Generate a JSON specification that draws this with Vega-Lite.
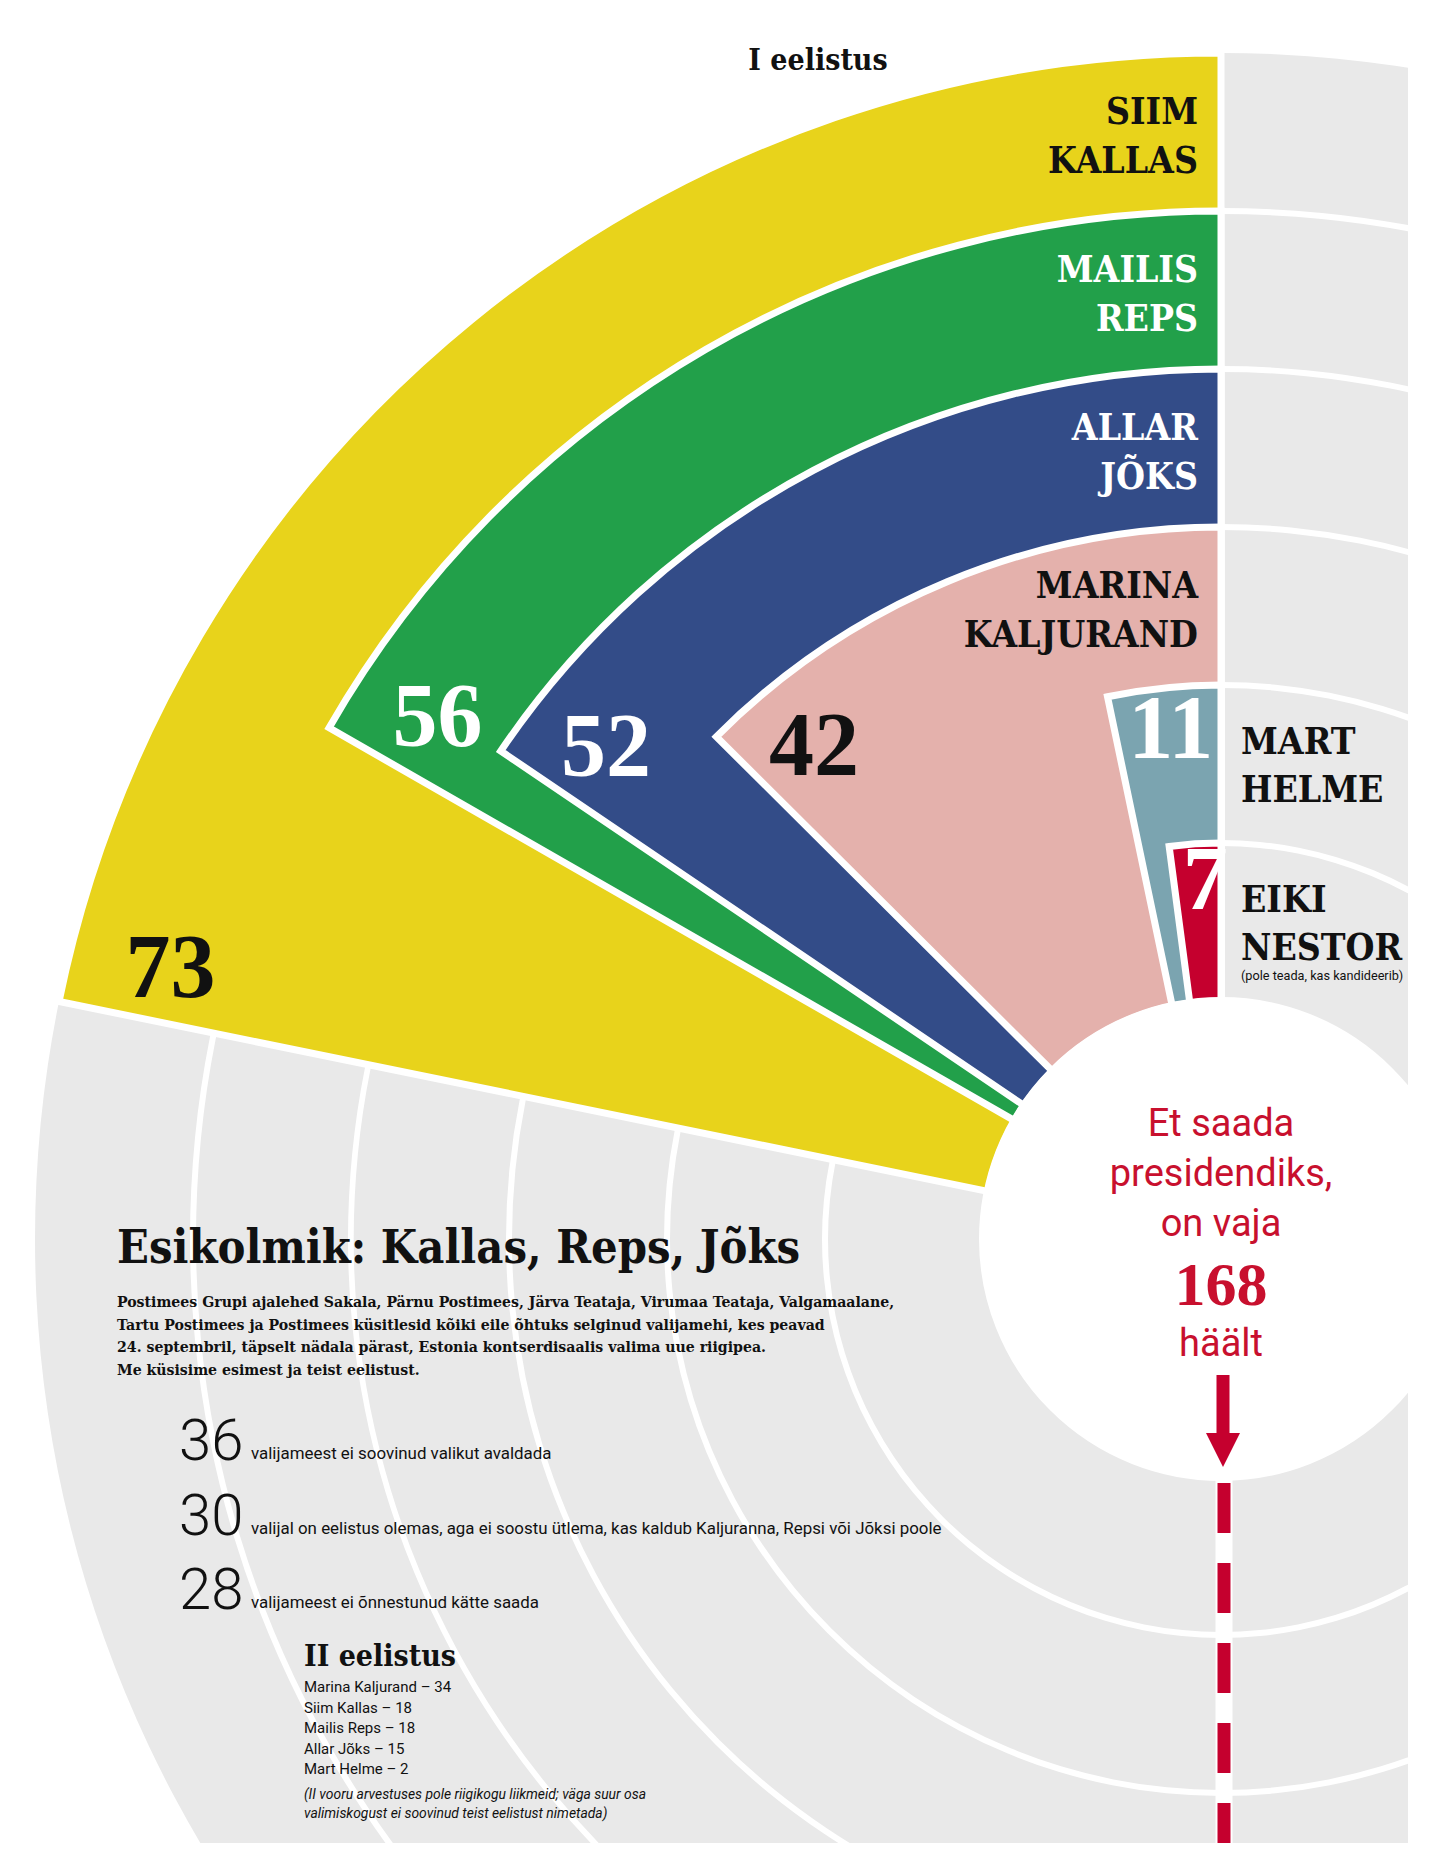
{
  "$schema": "https://vega.github.io/schema/vega-lite/v6.json",
  "width": 1408,
  "height": 1843,
  "padding": 0,
  "autosize": {"type": "none"},
  "background": "white",
  "config": {"view": {"stroke": null}},
  "datasets": {
    "candidates": [
      {"candidate": "Siim Kallas", "label": "SIIM\nKALLAS", "value": 73, "ring": 6},
      {"candidate": "Mailis Reps", "label": "MAILIS\nREPS", "value": 56, "ring": 5},
      {"candidate": "Allar Jõks", "label": "ALLAR\nJÕKS", "value": 52, "ring": 4},
      {"candidate": "Marina Kaljurand", "label": "MARINA\nKALJURAND", "value": 42, "ring": 3},
      {"candidate": "Mart Helme", "label": "MART\nHELME", "value": 11, "ring": 2},
      {"candidate": "Eiki Nestor", "label": "EIKI\nNESTOR", "value": 7, "ring": 1}
    ],
    "rings": [{"ring": 1}, {"ring": 2}, {"ring": 3}, {"ring": 4}, {"ring": 5}],
    "one": [{"k": 1}]
  },
  "encoding": {
    "x": {"datum": 1221, "type": "quantitative", "scale": {"domain": [0, 1408], "nice": false, "zero": false}, "axis": null},
    "y": {"datum": 1239, "type": "quantitative", "scale": {"domain": [0, 1843], "reverse": true, "nice": false, "zero": false}, "axis": null}
  },
  "layer": [
    {
      "data": {"name": "one"},
      "mark": {"type": "arc", "fill": "#e9e9e9", "clip": true},
      "encoding": {
        "theta": {"datum": 335, "type": "quantitative", "stack": null, "scale": {"domain": [0, 335], "range": [0, -6.283185307], "nice": false, "zero": false}},
        "theta2": {"datum": 0},
        "radius": {"datum": 6, "type": "quantitative", "scale": {"type": "linear", "domain": [0, 6], "range": [238, 1186], "nice": false, "zero": false}}
      }
    },
    {
      "data": {"name": "rings"},
      "mark": {"type": "arc", "fill": "white", "clip": true, "radiusOffset": 3, "radius2Offset": -3},
      "encoding": {
        "theta": {"datum": 335, "type": "quantitative", "stack": null, "scale": {"domain": [0, 335], "range": [0, -6.283185307], "nice": false, "zero": false}},
        "theta2": {"datum": 0},
        "radius": {"field": "ring", "type": "quantitative", "scale": {"type": "linear", "domain": [0, 6], "range": [238, 1186], "nice": false, "zero": false}},
        "radius2": {"field": "ring"}
      }
    },
    {
      "data": {"name": "candidates"},
      "mark": {"type": "arc", "stroke": "white", "strokeWidth": 7},
      "encoding": {
        "theta": {"field": "value", "type": "quantitative", "stack": null, "scale": {"domain": [0, 335], "range": [0, -6.283185307], "nice": false, "zero": false}},
        "theta2": {"datum": 0},
        "radius": {"field": "ring", "type": "quantitative", "scale": {"type": "linear", "domain": [0, 6], "range": [238, 1186], "nice": false, "zero": false}},
        "radius2": {"datum": 0},
        "color": {
          "field": "candidate", "type": "nominal", "legend": null,
          "scale": {
            "domain": ["Siim Kallas", "Mailis Reps", "Allar Jõks", "Marina Kaljurand", "Mart Helme", "Eiki Nestor"],
            "range": ["#e8d31b", "#22a04a", "#334c88", "#e4b1ac", "#7ba4b0", "#c5002e"]
          }
        }
      }
    },
    {
      "data": {"name": "one"},
      "mark": {"type": "arc", "fill": "white", "stroke": "white", "strokeWidth": 8},
      "encoding": {
        "theta": {"datum": 335, "type": "quantitative", "stack": null, "scale": {"domain": [0, 335], "range": [0, -6.283185307], "nice": false, "zero": false}},
        "theta2": {"datum": 0},
        "radius": {"datum": 0, "type": "quantitative", "scale": {"type": "linear", "domain": [0, 6], "range": [238, 1186], "nice": false, "zero": false}}
      }
    },
    {
      "data": {"name": "one"},
      "mark": {"type": "rule", "color": "white", "strokeWidth": 17},
      "encoding": {
        "x": {"datum": 1224, "type": "quantitative", "scale": {"domain": [0, 1408], "nice": false, "zero": false}, "axis": null},
        "y": {"datum": 1470, "type": "quantitative", "scale": {"domain": [0, 1843], "reverse": true, "nice": false, "zero": false}, "axis": null},
        "y2": {"datum": 1843}
      }
    },
    {
      "data": {"name": "one"},
      "mark": {"type": "rule", "color": "#c5002e", "strokeWidth": 13, "strokeDash": [50, 30], "strokeCap": "butt"},
      "encoding": {
        "x": {"datum": 1224, "type": "quantitative", "scale": {"domain": [0, 1408], "nice": false, "zero": false}, "axis": null},
        "y": {"datum": 1483, "type": "quantitative", "scale": {"domain": [0, 1843], "reverse": true, "nice": false, "zero": false}, "axis": null},
        "y2": {"datum": 1843}
      }
    },
    {
      "data": {"name": "one"},
      "mark": {"type": "rule", "color": "#c5002e", "strokeWidth": 13, "strokeCap": "butt"},
      "encoding": {
        "x": {"datum": 1223, "type": "quantitative", "scale": {"domain": [0, 1408], "nice": false, "zero": false}, "axis": null},
        "y": {"datum": 1375, "type": "quantitative", "scale": {"domain": [0, 1843], "reverse": true, "nice": false, "zero": false}, "axis": null},
        "y2": {"datum": 1440}
      }
    },
    {
      "data": {"name": "one"},
      "mark": {"type": "point", "shape": "M-1,-1L1,-1L0,1Z", "filled": true, "color": "#c5002e", "opacity": 1, "size": 1156, "strokeWidth": 0},
      "encoding": {
        "x": {"datum": 1223, "type": "quantitative", "scale": {"domain": [0, 1408], "nice": false, "zero": false}, "axis": null},
        "y": {"datum": 1450, "type": "quantitative", "scale": {"domain": [0, 1843], "reverse": true, "nice": false, "zero": false}, "axis": null}
      }
    },
    {
      "data": {"name": "candidates"},
      "transform": [{"filter": "datum.ring >= 3"}],
      "mark": {"type": "text", "align": "right", "baseline": "alphabetic", "dx": -23, "dy": 71, "lineBreak": "\n", "lineHeight": 49, "font": "DejaVu Serif Condensed, DejaVu Serif", "fontWeight": "bold", "fontSize": 37},
      "encoding": {
        "theta": {"datum": 0, "type": "quantitative", "stack": null, "scale": {"domain": [0, 335], "range": [0, -6.283185307], "nice": false, "zero": false}},
        "radius": {"field": "ring", "type": "quantitative", "scale": {"type": "linear", "domain": [0, 6], "range": [238, 1186], "nice": false, "zero": false}},
        "text": {"field": "label"},
        "color": {"condition": {"test": "datum.ring == 5 || datum.ring == 4", "value": "white"}, "value": "#111111"}
      }
    },
    {
      "data": {"name": "candidates"},
      "transform": [{"filter": "datum.ring <= 2"}],
      "mark": {"type": "text", "align": "left", "baseline": "alphabetic", "dx": 20, "dy": 69, "lineBreak": "\n", "lineHeight": 48, "font": "DejaVu Serif Condensed, DejaVu Serif", "fontWeight": "bold", "fontSize": 37, "color": "#111111"},
      "encoding": {
        "theta": {"datum": 0, "type": "quantitative", "stack": null, "scale": {"domain": [0, 335], "range": [0, -6.283185307], "nice": false, "zero": false}},
        "radius": {"field": "ring", "type": "quantitative", "scale": {"type": "linear", "domain": [0, 6], "range": [238, 1186], "nice": false, "zero": false}},
        "text": {"field": "label"}
      }
    },
    {
      "data": {"name": "candidates"},
      "mark": {"type": "text", "align": "left", "baseline": "alphabetic", "radiusOffset": -64, "thetaOffset": 0.016, "font": "Liberation Serif", "fontWeight": "bold", "fontSize": 90},
      "encoding": {
        "theta": {"field": "value", "type": "quantitative", "stack": null, "scale": {"domain": [0, 335], "range": [0, -6.283185307], "nice": false, "zero": false}},
        "radius": {"field": "ring", "type": "quantitative", "scale": {"type": "linear", "domain": [0, 6], "range": [238, 1186], "nice": false, "zero": false}},
        "text": {"field": "value"},
        "color": {"condition": {"test": "datum.ring == 6 || datum.ring == 3", "value": "#111111"}, "value": "white"}
      }
    },
    {
      "data": {"name": "one"},
      "mark": {"type": "text", "text": "(pole teada, kas kandideerib)", "align": "left", "baseline": "alphabetic", "font": "Roboto", "fontSize": 12.7, "color": "#111111"},
      "encoding": {
        "x": {"datum": 1241, "type": "quantitative", "scale": {"domain": [0, 1408], "nice": false, "zero": false}, "axis": null},
        "y": {"datum": 980, "type": "quantitative", "scale": {"domain": [0, 1843], "reverse": true, "nice": false, "zero": false}, "axis": null}
      }
    },
    {
      "data": {"name": "one"},
      "mark": {"type": "text", "text": "I eelistus", "align": "center", "baseline": "alphabetic", "font": "DejaVu Serif Condensed, DejaVu Serif", "fontWeight": "bold", "fontSize": 30, "color": "#111111"},
      "encoding": {
        "x": {"datum": 818, "type": "quantitative", "scale": {"domain": [0, 1408], "nice": false, "zero": false}, "axis": null},
        "y": {"datum": 70, "type": "quantitative", "scale": {"domain": [0, 1843], "reverse": true, "nice": false, "zero": false}, "axis": null}
      }
    },
    {
      "data": {"name": "one"},
      "mark": {"type": "text", "text": ["Et saada", "presidendiks,", "on vaja"], "align": "center", "baseline": "alphabetic", "lineHeight": 50, "font": "Roboto", "fontSize": 38, "color": "#c8102e"},
      "encoding": {
        "x": {"datum": 1221, "type": "quantitative", "scale": {"domain": [0, 1408], "nice": false, "zero": false}, "axis": null},
        "y": {"datum": 1136, "type": "quantitative", "scale": {"domain": [0, 1843], "reverse": true, "nice": false, "zero": false}, "axis": null}
      }
    },
    {
      "data": {"name": "one"},
      "mark": {"type": "text", "text": "168", "align": "center", "baseline": "alphabetic", "font": "Liberation Serif", "fontWeight": "bold", "fontSize": 62, "color": "#c8102e"},
      "encoding": {
        "x": {"datum": 1221, "type": "quantitative", "scale": {"domain": [0, 1408], "nice": false, "zero": false}, "axis": null},
        "y": {"datum": 1305, "type": "quantitative", "scale": {"domain": [0, 1843], "reverse": true, "nice": false, "zero": false}, "axis": null}
      }
    },
    {
      "data": {"name": "one"},
      "mark": {"type": "text", "text": "häält", "align": "center", "baseline": "alphabetic", "font": "Roboto", "fontSize": 38, "color": "#c8102e"},
      "encoding": {
        "x": {"datum": 1221, "type": "quantitative", "scale": {"domain": [0, 1408], "nice": false, "zero": false}, "axis": null},
        "y": {"datum": 1356, "type": "quantitative", "scale": {"domain": [0, 1843], "reverse": true, "nice": false, "zero": false}, "axis": null}
      }
    },
    {
      "data": {"name": "one"},
      "mark": {"type": "text", "text": "Esikolmik: Kallas, Reps, Jõks", "align": "left", "baseline": "alphabetic", "font": "DejaVu Serif Condensed, DejaVu Serif", "fontWeight": "bold", "fontSize": 46.6, "color": "#111111"},
      "encoding": {
        "x": {"datum": 117, "type": "quantitative", "scale": {"domain": [0, 1408], "nice": false, "zero": false}, "axis": null},
        "y": {"datum": 1263, "type": "quantitative", "scale": {"domain": [0, 1843], "reverse": true, "nice": false, "zero": false}, "axis": null}
      }
    },
    {
      "data": {"name": "one"},
      "mark": {"type": "text", "text": ["Postimees Grupi ajalehed Sakala, Pärnu Postimees, Järva Teataja, Virumaa Teataja, Valgamaalane,", "Tartu Postimees ja Postimees küsitlesid kõiki eile õhtuks selginud valijamehi, kes peavad", "24. septembril, täpselt nädala pärast, Estonia kontserdisaalis valima uue riigipea.", "Me küsisime esimest ja teist eelistust."], "align": "left", "baseline": "alphabetic", "lineHeight": 22.6, "font": "DejaVu Serif Condensed, DejaVu Serif", "fontWeight": "bold", "fontSize": 15.7, "color": "#111111"},
      "encoding": {
        "x": {"datum": 117, "type": "quantitative", "scale": {"domain": [0, 1408], "nice": false, "zero": false}, "axis": null},
        "y": {"datum": 1307, "type": "quantitative", "scale": {"domain": [0, 1843], "reverse": true, "nice": false, "zero": false}, "axis": null}
      }
    },
    {
      "data": {"name": "one"},
      "mark": {"type": "text", "text": ["36", "30", "28"], "align": "left", "baseline": "alphabetic", "lineHeight": 74.5, "font": "Roboto", "fontWeight": 300, "fontSize": 58, "color": "#111111"},
      "encoding": {
        "x": {"datum": 179, "type": "quantitative", "scale": {"domain": [0, 1408], "nice": false, "zero": false}, "axis": null},
        "y": {"datum": 1460, "type": "quantitative", "scale": {"domain": [0, 1843], "reverse": true, "nice": false, "zero": false}, "axis": null}
      }
    },
    {
      "data": {"name": "one"},
      "mark": {"type": "text", "text": ["valijameest ei soovinud valikut avaldada", "valijal on eelistus olemas, aga ei soostu ütlema, kas kaldub Kaljuranna, Repsi või Jõksi poole", "valijameest ei õnnestunud kätte saada"], "align": "left", "baseline": "alphabetic", "lineHeight": 74.5, "font": "Roboto", "fontSize": 16.9, "color": "#111111"},
      "encoding": {
        "x": {"datum": 251, "type": "quantitative", "scale": {"domain": [0, 1408], "nice": false, "zero": false}, "axis": null},
        "y": {"datum": 1459, "type": "quantitative", "scale": {"domain": [0, 1843], "reverse": true, "nice": false, "zero": false}, "axis": null}
      }
    },
    {
      "data": {"name": "one"},
      "mark": {"type": "text", "text": "II eelistus", "align": "left", "baseline": "alphabetic", "font": "DejaVu Serif Condensed, DejaVu Serif", "fontWeight": "bold", "fontSize": 30, "color": "#111111"},
      "encoding": {
        "x": {"datum": 304, "type": "quantitative", "scale": {"domain": [0, 1408], "nice": false, "zero": false}, "axis": null},
        "y": {"datum": 1666, "type": "quantitative", "scale": {"domain": [0, 1843], "reverse": true, "nice": false, "zero": false}, "axis": null}
      }
    },
    {
      "data": {"name": "one"},
      "mark": {"type": "text", "text": ["Marina Kaljurand – 34", "Siim Kallas – 18", "Mailis Reps – 18", "Allar Jõks – 15", "Mart Helme – 2"], "align": "left", "baseline": "alphabetic", "lineHeight": 20.6, "font": "Roboto", "fontSize": 15, "color": "#111111"},
      "encoding": {
        "x": {"datum": 304, "type": "quantitative", "scale": {"domain": [0, 1408], "nice": false, "zero": false}, "axis": null},
        "y": {"datum": 1692, "type": "quantitative", "scale": {"domain": [0, 1843], "reverse": true, "nice": false, "zero": false}, "axis": null}
      }
    },
    {
      "data": {"name": "one"},
      "mark": {"type": "text", "text": ["(II vooru arvestuses pole riigikogu liikmeid; väga suur osa", "valimiskogust ei soovinud teist eelistust nimetada)"], "align": "left", "baseline": "alphabetic", "lineHeight": 19, "font": "Roboto", "fontStyle": "italic", "fontSize": 13.9, "color": "#111111"},
      "encoding": {
        "x": {"datum": 304, "type": "quantitative", "scale": {"domain": [0, 1408], "nice": false, "zero": false}, "axis": null},
        "y": {"datum": 1799, "type": "quantitative", "scale": {"domain": [0, 1843], "reverse": true, "nice": false, "zero": false}, "axis": null}
      }
    }
  ]
}
